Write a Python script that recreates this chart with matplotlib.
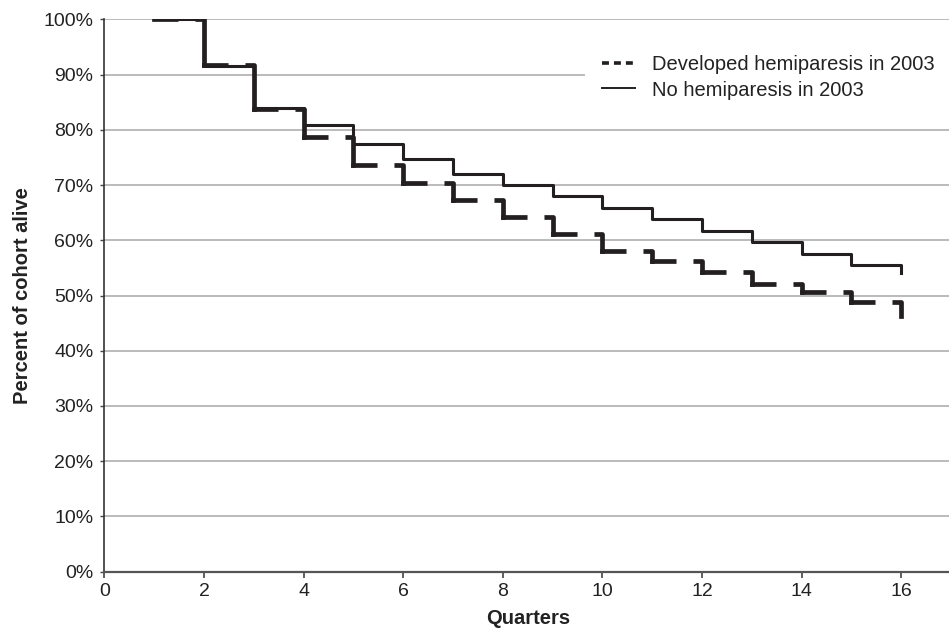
import matplotlib
matplotlib.use("Agg")
import matplotlib.pyplot as plt
from matplotlib.lines import Line2D
import numpy as np

plt.rcParams['font.family'] = ['Liberation Sans', 'DejaVu Sans']
plt.rcParams['lines.scale_dashes'] = False

# Kaplan-Meier style survival, percent alive at each quarter
quarters = [1, 2, 3, 4, 5, 6, 7, 8, 9, 10, 11, 12, 13, 14, 15, 16]
hemi_2003 = [100, 91.8, 83.7, 78.7, 73.6, 70.3, 67.3, 64.2, 61.1, 58.1, 56.2, 54.2, 52.1, 50.7, 48.8, 46.2]
no_hemi_2003 = [100, 91.5, 84.0, 80.8, 77.4, 74.8, 72.0, 70.0, 68.0, 65.8, 63.8, 61.7, 59.7, 57.5, 55.5, 54.0]
labels = ["Developed hemiparesis in 2003", "No hemiparesis in 2003"]
xticks = [0, 2, 4, 6, 8, 10, 12, 14, 16]
yticks = [0, 10, 20, 30, 40, 50, 60, 70, 80, 90, 100]

ink = '#231f20'

fig = plt.figure(figsize=(9.49, 6.30), dpi=100)
ax = fig.add_axes([104.4 / 949, (630 - 571.7) / 630, 846.6 / 949, 552.4 / 630])

ax.step(quarters, no_hemi_2003, where='post', color=ink, lw=2.2, zorder=3)

# dashed curve: each step gets its own dash run (dash, gap, then through the corner)
lw_d = 3.4
for i in range(len(quarters) - 1):
	ax.step(quarters[i:i + 2], hemi_2003[i:i + 2], where='post', color=ink, lw=lw_d,
			dashes=(19.0 - lw_d, 12.2 + lw_d, 200, 1), dash_capstyle='projecting', zorder=4)

ax.set_xlim(0, 17)
ax.set_ylim(0, 100)
ax.set_xticks(xticks)
ax.set_yticks(yticks)
ax.set_yticklabels([f"{v}%" for v in yticks])
ax.tick_params(axis='both', labelsize=14, colors='#222222', direction='out')
ax.tick_params(axis='x', length=4, pad=4, width=1.2, color='#444444')
ax.tick_params(axis='y', length=3, pad=5, width=1.0, color='#444444')

ax.grid(axis='y', color='#a8a8a8', lw=1.1, zorder=1)
ax.set_axisbelow(True)
for s in ['top', 'right']:
	ax.spines[s].set_visible(False)
ax.spines['left'].set_color('#333333')
ax.spines['left'].set_linewidth(1.2)
ax.spines['bottom'].set_color('#555555')
ax.spines['bottom'].set_linewidth(1.6)

ax.set_xlabel("Quarters", fontsize=14.5, fontweight='bold', color='#222222')
ax.set_ylabel("Percent of cohort alive", fontsize=14.5, fontweight='bold', color='#222222')
ax.xaxis.set_label_coords(0.5, -0.068)
ax.yaxis.set_label_coords(-0.0855, 0.5)

handles = [Line2D([], [], color=ink, lw=2.6, dashes=(5, 3.6)),
		   Line2D([], [], color=ink, lw=1.4)]
leg = ax.legend(handles, labels, loc='center left', bbox_to_anchor=(585 / 949, 1 - 77.5 / 630),
				bbox_transform=fig.transFigure, fontsize=14.5, frameon=True, fancybox=False,
				facecolor='white', edgecolor='none', framealpha=1, borderpad=0.85,
				handlelength=1.65, handletextpad=0.85, labelspacing=0.3, borderaxespad=0)
for t in leg.get_texts():
	t.set_color('#222222')
leg.set_zorder(5)

fig.savefig('out.png', dpi=100)
